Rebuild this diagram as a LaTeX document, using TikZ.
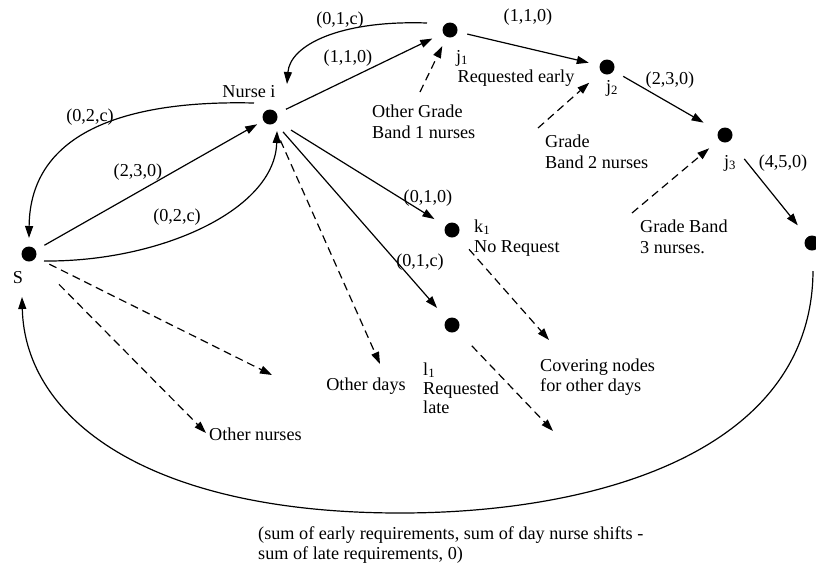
\documentclass[tikz,border=0pt]{standalone}
\usepackage{fontspec}
\setmainfont{Liberation Serif}
\usetikzlibrary{arrows.meta}
\begin{document}
\begin{tikzpicture}[x=1pt,y=-1pt,
  dot/.style={circle,fill=black,inner sep=0pt,minimum size=15pt},
  lbl/.style={inner sep=0pt,font=\fontsize{18.2}{20.5}\selectfont},
  arr/.style={line width=1.2pt,-{Triangle[length=12pt,width=8pt]}},
  darr/.style={arr,dash pattern=on 8pt off 5pt}]
\useasboundingbox (0,0) rectangle (816,574);
\fill[white] (0,0) rectangle (816,574);
% nodes
\node[dot] (S) at (29,254) {};
\node[dot] (N) at (270,117) {};
\node[dot] (J1) at (450,30) {};
\node[dot] (J2) at (607,67) {};
\node[dot] (J3) at (725,135) {};
\node[dot] (T) at (812,243) {};
\node[dot] (K1) at (452,230) {};
\node[dot] (L1) at (452,325) {};
% free ends
\coordinate (od1) at (272,375);
\coordinate (onr) at (206,433);
\coordinate (odays) at (380,364);
\coordinate (kend) at (549,340);
\coordinate (lend) at (553,431);
\coordinate (b1) at (420,92);
\coordinate (b2) at (538,128);
\coordinate (b3) at (632,213);
% texts
\node[lbl] (tS) at (18,278) {S};
\node[lbl] (tN) at (249,92) {Nurse i};
\node[lbl] (e1) at (138,172) {(2,3,0)};
\node[lbl] (e2) at (177,217) {(0,2,c)};
\node[lbl] (e3) at (90,117) {(0,2,c)};
\node[lbl] (e4) at (348,58) {(1,1,0)};
\node[lbl] (e5) at (340,20) {(0,1,c)};
\node[lbl] (e6) at (528,17) {(1,1,0)};
\node[lbl] (e7) at (670,80) {(2,3,0)};
\node[lbl] (e8) at (783,163) {(4,5,0)};
\node[lbl] (e9) at (428,198) {(0,1,0)};
\node[lbl] (e10) at (420,262) {(0,1,c)};
\node[lbl] (tj1) at (462,58) {j\textsubscript{1}};
\node[lbl] (treq) at (516,78) {Requested early};
\node[lbl] (tj2) at (612,88) {j\textsubscript{2}};
\node[lbl] (tj3) at (730,163) {j\textsubscript{3}};
\node[lbl,anchor=west,align=left] (tb1) at (372,122) {Other Grade\\Band 1 nurses};
\node[lbl,anchor=west,align=left] (tb2) at (545,152) {Grade\\Band 2 nurses};
\node[lbl,anchor=west,align=left] (tb3) at (640,237) {Grade Band\\3 nurses.};
\node[lbl,anchor=west,align=left] (tk1) at (474,238) {k\textsubscript{1}\\No Request};
\node[lbl,anchor=west,align=left,font=\fontsize{18.2}{19}\selectfont] (tl1) at (423,388) {l\textsubscript{1}\\Requested\\late};
\node[lbl] (tod) at (366,386) {Other days};
\node[lbl,anchor=west,align=left] (tcov) at (540,377) {Covering nodes\\for other days};
\node[lbl,anchor=west] (ton) at (209,434) {Other nurses};
\node[lbl,anchor=west,align=left] (tsum) at (258,545) {(sum of early requirements, sum of day nurse shifts -\\sum of late requirements, 0)};
% solid edges
\draw[arr,shorten <=10pt,shorten >=7pt] (S) -- (N);
\draw[arr,shorten <=10pt,shorten >=12pt] (N) -- (J1);
\draw[arr,shorten <=10pt,shorten >=11pt] (J1) -- (J2);
\draw[arr,shorten <=11pt,shorten >=17pt] (J2) -- (J3);
\draw[arr,shorten <=23pt,shorten >=15pt] (J3) -- (T);
\draw[arr,shorten <=17pt,shorten >=13pt] (N) -- (K1);
\draw[arr,shorten <=12pt,shorten >=15pt] (N) -- (L1);
% curved edges
\draw[arr] ([shift={(-16,-14)}]N.center) .. controls (130,100) and (30,130) .. ([shift={(0,-16)}]S.center);
\draw[arr] ([shift={(15,7)}]S.center) .. controls (160,262) and (275,210) .. ([shift={(7,14)}]N.center);
\draw[arr] ([shift={(-23,-7)}]J1.center) .. controls (340,20) and (290,45) .. ([shift={(17,-33)}]N.center);
\draw[arr] ([shift={(1,28)}]T.center) .. controls (812,450) and (600,513) .. (400,513)
  .. controls (150,513) and (25,420) .. ([shift={(-7,43)}]S.center);
% dashed edges
\draw[darr,shorten <=15pt] (S) -- (od1);
\draw[darr,shorten <=35pt] (S) -- (onr);
\draw[darr,shorten <=18pt] (N) -- (odays);
\draw[darr,shorten <=18pt] (K1) -- (kend);
\draw[darr,shorten <=21pt] (L1) -- (lend);
\draw[darr,shorten >=10pt] (b1) -- (J1);
\draw[darr,shorten >=16pt] (b2) -- (J2);
\draw[darr,shorten >=13pt] (b3) -- (J3);
\end{tikzpicture}
\end{document}
